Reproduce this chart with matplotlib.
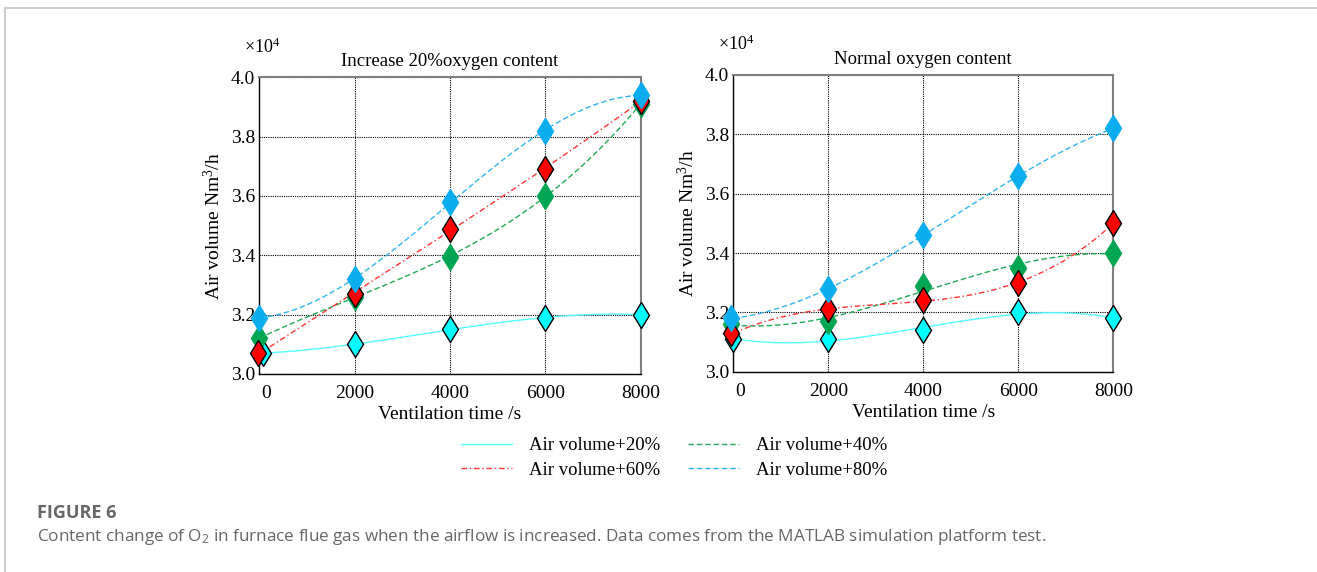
import numpy as np
import matplotlib
matplotlib.use("Agg")
import matplotlib.pyplot as plt
from matplotlib.transforms import ScaledTranslation
from matplotlib.lines import Line2D

# == 데이터 (x10^4 Nm3/h) =====================================================
time_s = [0, 2000, 4000, 6000, 8000]
series_labels = ["Air volume+20%", "Air volume+40%", "Air volume+60%", "Air volume+80%"]

# first marker of some series sits a little off x=0 in the picture
x_first_inc = [80, 0, -20, 0]
x_first_norm = [0, -50, -50, -50]

inc_20 = [3.07, 3.10, 3.15, 3.19, 3.20]
inc_40 = [3.12, 3.26, 3.395, 3.60, 3.91]
inc_60 = [3.07, 3.27, 3.49, 3.69, 3.92]
inc_80 = [3.19, 3.32, 3.58, 3.82, 3.94]

norm_20 = [3.11, 3.11, 3.14, 3.20, 3.18]
norm_40 = [3.16, 3.17, 3.29, 3.35, 3.40]
norm_60 = [3.13, 3.21, 3.24, 3.30, 3.50]
norm_80 = [3.18, 3.28, 3.46, 3.66, 3.82]

panel_titles = ["Increase 20%oxygen content", "Normal oxygen content"]
caption_head = "FIGURE 6"
caption_text = ("Content change of O$_\\mathregular{2}$ in furnace flue gas when the airflow is increased. "
                "Data comes from the MATLAB simulation platform test.")

# == 스타일 ====================================================================
plt.rcParams['font.family'] = ['Liberation Serif', 'DejaVu Serif']
plt.rcParams['mathtext.default'] = 'regular'

line_colors = ['#55ffff', '#22aa55', '#ff3333', '#33b5f0']
mark_colors = ['#00ffff', '#00a651', '#ff0000', '#0aaeef']
mark_edges = ['black', '#00a651', 'black', '#0aaeef']
line_styles = ['-', (0, (4, 2)), (0, (4, 2, 1, 2)), (0, (4, 2))]

fig = plt.figure(figsize=(13.17, 5.72), dpi=100)

# frame of the page (top and left edges only)
fig.add_artist(Line2D([5 / 1317, 1], [1 - 8 / 572, 1 - 8 / 572], color='#cfcfcf', lw=1.5))
fig.add_artist(Line2D([5 / 1317, 5 / 1317], [0, 1 - 8 / 572], color='#cfcfcf', lw=1.5))

ax_l = fig.add_axes([259.3 / 1317, 1 - 374 / 572, 381.4 / 1317, 296.7 / 572])
ax_r = fig.add_axes([733.3 / 1317, 1 - 371.7 / 572, 380 / 1317, 296.7 / 572])

panels = [
    (ax_l, [inc_20, inc_40, inc_60, inc_80], x_first_inc, panel_titles[0]),
    (ax_r, [norm_20, norm_40, norm_60, norm_80], x_first_norm, panel_titles[1]),
]

xx = np.linspace(0, 8000, 200)
handles = []
for ax, data, x_first, title in panels:
    for i, y in enumerate(data):
        xs = [x_first[i]] + time_s[1:]
        # cubic trend line, like the MATLAB fit
        coef = np.polyfit(time_s, y, 3)
        ln, = ax.plot(xx, np.polyval(coef, xx), color=line_colors[i], ls=line_styles[i],
                      lw=1.0, label=series_labels[i])
        ax.plot(xs, y, ls='none', marker='d', ms=13.5, mfc=mark_colors[i],
                mec=mark_edges[i], mew=1.0, clip_on=False, zorder=5)
        if ax is ax_l:
            handles.append(ln)

    ax.set_xlim(0, 8000)
    ax.set_ylim(3.0, 4.0)
    ax.set_xticks(time_s)
    ax.set_yticks([3.0, 3.2, 3.4, 3.6, 3.8, 4.0])
    ax.set_yticklabels(['3.0', '3.2', '3.4', '3.6', '3.8', '4.0'])
    ax.tick_params(length=0, labelsize=14, pad=3)
    ax.tick_params(axis='x', pad=8)
    # "0" sits a little right of the axis edge
    lab0 = ax.get_xticklabels()[0]
    lab0.set_transform(lab0.get_transform() + ScaledTranslation(7 / 100, 0, fig.dpi_scale_trans))
    ax.grid(True, color='black', ls=(0, (1, 1)), lw=0.8)
    for side in ['left', 'bottom']:
        ax.spines[side].set_color('black')
        ax.spines[side].set_linewidth(1.0)
    for side in ['top', 'right']:
        ax.spines[side].set_color('#808080')
        ax.spines[side].set_linewidth(1.5)
    ax.set_title(title, fontsize=13.5, pad=8)
    ax.set_xlabel("Ventilation time /s", fontsize=14, labelpad=3)
    ax.set_ylabel("Air volume Nm$^\\mathregular{3}$/h", fontsize=14, labelpad=5)
    ax.text(-0.04, 1.07, "×10$^\\mathregular{4}$", transform=ax.transAxes, fontsize=13,
            ha='left', va='bottom')

# legend: column 1 -> +20, +60 ; column 2 -> +40, +80
order = [0, 2, 1, 3]
fig.legend([handles[k] for k in order], [series_labels[k] for k in order],
           ncol=2, loc='center', bbox_to_anchor=(674 / 1317, 1 - 458 / 572),
           frameon=False, fontsize=13.5, handlelength=2.7, columnspacing=1.5,
           labelspacing=0.4, handletextpad=0.9)

fig.text(37 / 1317, 1 - 513 / 572, caption_head, fontsize=13, fontweight='bold',
         color='#666666', family=['Open Sans', 'DejaVu Sans'], va='center', ha='left')
fig.text(37 / 1317, 1 - 537 / 572, caption_text, fontsize=12.3, color='#666666',
         family=['Open Sans', 'DejaVu Sans'], va='center', ha='left')

fig.savefig("out.png", dpi=100)
